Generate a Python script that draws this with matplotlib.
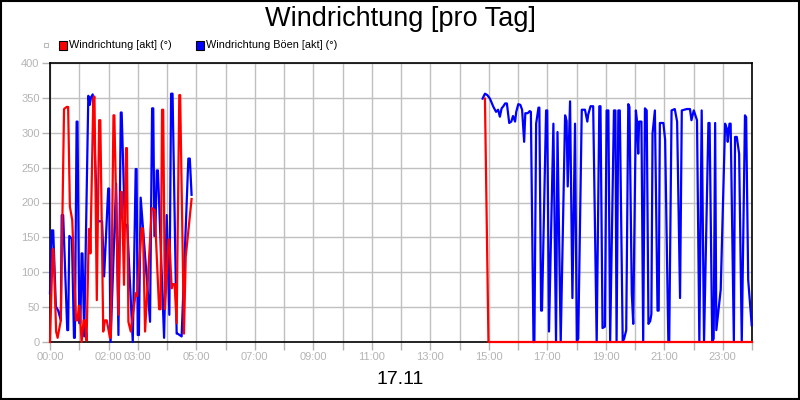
import numpy as np
import matplotlib
matplotlib.use("Agg")
import matplotlib.pyplot as plt
from matplotlib.patches import Rectangle

# Stunden des Tages (17.11) und Windrichtung in Grad, NaN = keine Daten
red_hours = [0.0, 0.09, 0.12, 0.21, 0.26, 0.37, 0.48, 0.57, 0.62, 0.68, 0.76, 0.89,
             0.94, 0.99, 1.01, 1.08, 1.15, 1.2, 1.25, 1.33, 1.36, 1.38, 1.48, 1.52,
             1.6, 1.68, 1.72, 1.82, 1.88, 1.94, 2.05, 2.08, 2.17, 2.2, 2.34, 2.42,
             2.46, 2.53, 2.6, 2.63, 2.68, 2.76, 2.93, 2.98, 3.13, 3.18, 3.25, 3.48,
             3.58, 3.73, 3.78, 3.83, 3.87, 3.93, 4.05, 4.08, 4.16, 4.2, 4.26, 4.33,
             4.42, 4.45, 4.58, 4.64, 4.84, 9.0,
             14.87, 14.99, 16.0, 18.0, 20.0, 22.0, 24.0]
red_vals = [0, 133, 133, 15, 6, 31, 334, 337, 337, 194, 175, 31,
            31, 52, 52, 0, 31, 31, 2, 162, 162, 127, 349, 352,
            60, 318, 318, 15, 31, 31, 6, 6, 325, 325, 39, 215,
            215, 82, 278, 278, 29, 15, 70, 66, 163, 163, 15, 192,
            189, 47, 47, 333, 333, 47, 147, 147, 77, 83, 83, 27,
            354, 354, 12, 122, 205, np.nan,
            349, 0, 0, 0, 0, 0, 0]

blue_hours = [0.0, 0.06, 0.11, 0.2, 0.28, 0.37, 0.4, 0.45, 0.59, 0.62, 0.66, 0.75,
              0.82, 0.85, 0.91, 0.94, 1.0, 1.04, 1.08, 1.11, 1.17, 1.31, 1.36, 1.39,
              1.46, 1.62, 1.78, 1.85, 1.99, 2.02, 2.07, 2.26, 2.34, 2.42, 2.45, 2.56,
              2.64, 2.83, 2.93, 2.96, 3.0, 3.04, 3.1, 3.42, 3.49, 3.53, 3.57, 3.6,
              3.65, 3.69, 3.9, 3.99, 4.08, 4.14, 4.19, 4.33, 4.36, 4.5, 4.73, 4.78,
              4.84, 9.0,
              14.79, 14.87, 14.95, 15.04, 15.16, 15.25, 15.32, 15.38, 15.44, 15.5,
              15.56, 15.62, 15.7, 15.77, 15.83, 15.9, 15.94, 16.01, 16.08, 16.14,
              16.21, 16.25, 16.33, 16.4, 16.44, 16.53, 16.56, 16.62, 16.7, 16.73,
              16.79, 16.82, 16.96, 17.0, 17.06, 17.21, 17.3, 17.35, 17.46, 17.61,
              17.66, 17.7, 17.78, 17.86, 17.95, 18.01, 18.06, 18.18, 18.29, 18.37,
              18.4, 18.48, 18.57, 18.69, 18.78, 18.82, 18.89, 18.97, 19.03, 19.09,
              19.15, 19.28, 19.33, 19.37, 19.43, 19.48, 19.58, 19.63, 19.7, 19.77,
              19.81, 19.89, 19.94, 20.03, 20.07, 20.11, 20.14, 20.22, 20.28, 20.34,
              20.4, 20.46, 20.52, 20.56, 20.6, 20.68, 20.77, 20.81, 20.85, 20.97,
              21.03, 21.14, 21.17, 21.25, 21.36, 21.44, 21.54, 21.6, 21.77, 21.88,
              21.93, 22.01, 22.12, 22.2, 22.28, 22.36, 22.51, 22.55, 22.64, 22.69,
              22.74, 22.78, 22.93, 23.08, 23.14, 23.17, 23.23, 23.27, 23.38, 23.42,
              23.48, 23.56, 23.65, 23.76, 23.8, 23.87, 23.99]
blue_vals = [70, 160, 160, 51, 45, 31, 182, 182, 17, 17, 152, 148,
             6, 6, 316, 316, 27, 27, 127, 127, 8, 353, 340, 350,
             355, 173, 173, 94, 220, 220, 0, 227, 10, 329, 329, 168,
             168, 0, 248, 248, 10, 10, 207, 29, 335, 335, 152, 152,
             246, 246, 6, 182, 39, 356, 356, 12, 12, 8, 263, 263,
             211, np.nan,
             349, 356, 354, 349, 337, 330, 333, 323, 335, 338,
             342, 342, 314, 316, 324, 316, 330, 341, 340, 333,
             287, 328, 328, 331, 330, 0, 0, 313, 336, 336,
             45, 45, 332, 332, 15, 313, 0, 301, 0, 325,
             317, 223, 345, 63, 313, 0, 5, 333, 333, 316,
             326, 338, 338, 0, 338, 338, 20, 22, 332, 332,
             0, 332, 332, 0, 332, 332, 0, 5, 17, 341,
             337, 70, 26, 332, 316, 270, 316, 316, 0, 335,
             332, 26, 30, 40, 299, 332, 45, 45, 314, 314,
             290, 0, 0, 332, 334, 316, 63, 332, 334, 334,
             318, 332, 318, 0, 332, 0, 314, 314, 0, 5,
             314, 17, 75, 313, 306, 287, 313, 313, 0, 294,
             294, 270, 0, 325, 322, 89, 24]

tick_hours = list(range(25))
tick_labels = ["00:00", "", "02:00", "03:00", "", "05:00", "", "07:00", "", "09:00",
               "", "11:00", "", "13:00", "", "15:00", "", "17:00", "", "19:00",
               "", "21:00", "", "23:00", ""]

grey = "#b4b4b4"
plt.rcParams['font.family'] = ['Liberation Sans', 'DejaVu Sans']

fig = plt.figure(figsize=(8, 4), dpi=100)
ax = fig.add_axes([50 / 800, 1 - 342 / 400, 702 / 800, 279 / 400])

ax.plot(blue_hours, blue_vals, color="#0000ff", lw=1.6, solid_joinstyle="round",
        zorder=3, clip_on=False)
ax.plot(red_hours, red_vals, color="#ff0000", lw=1.6, solid_joinstyle="round",
        zorder=4, clip_on=False)

ax.set_xlim(0, 24)
ax.set_ylim(0, 400)
ax.set_xticks(tick_hours)
ax.set_xticklabels(tick_labels)
ax.set_yticks(range(0, 401, 50))
ax.grid(True, color="#c0c0c0", lw=1)
ax.set_axisbelow(True)
ax.tick_params(colors=grey, labelcolor=grey, labelsize=8, length=6, width=1,
               direction="out", pad=1.5)
for s in ax.spines.values():
    s.set_color("black")
    s.set_linewidth(1.2)
    s.set_zorder(2.5)

fig.text(0.5, 1 - 19 / 400, "Windrichtung [pro Tag]", ha="center", va="center",
         fontsize=19.5)
fig.text(0.5, 1 - 380 / 400, "17.11", ha="center", va="center", fontsize=14)

# Legende
ly = 1 - 45 / 400
fig.patches.append(Rectangle((44 / 800, ly - 2 / 400), 4 / 800, 4 / 400,
                             transform=fig.transFigure, fill=False, ec="#bbbbbb", lw=0.8))
fig.patches.append(Rectangle((59 / 800, ly - 4.5 / 400), 8 / 800, 9 / 400,
                             transform=fig.transFigure, fc="#ff0000", ec="black", lw=0.8))
fig.text(69 / 800, ly, "Windrichtung [akt] (°)", va="center", fontsize=7.8)
fig.patches.append(Rectangle((196 / 800, ly - 4.5 / 400), 8 / 800, 9 / 400,
                             transform=fig.transFigure, fc="#0000ff", ec="black", lw=0.8))
fig.text(206 / 800, ly, "Windrichtung Böen [akt] (°)", va="center", fontsize=7.8)

# Rahmen um das Bild
fig.patches.append(Rectangle((0.001, 0.002), 0.998, 0.996, transform=fig.transFigure,
                             fill=False, ec="black", lw=1.5))

fig.savefig("out.png", dpi=100)
